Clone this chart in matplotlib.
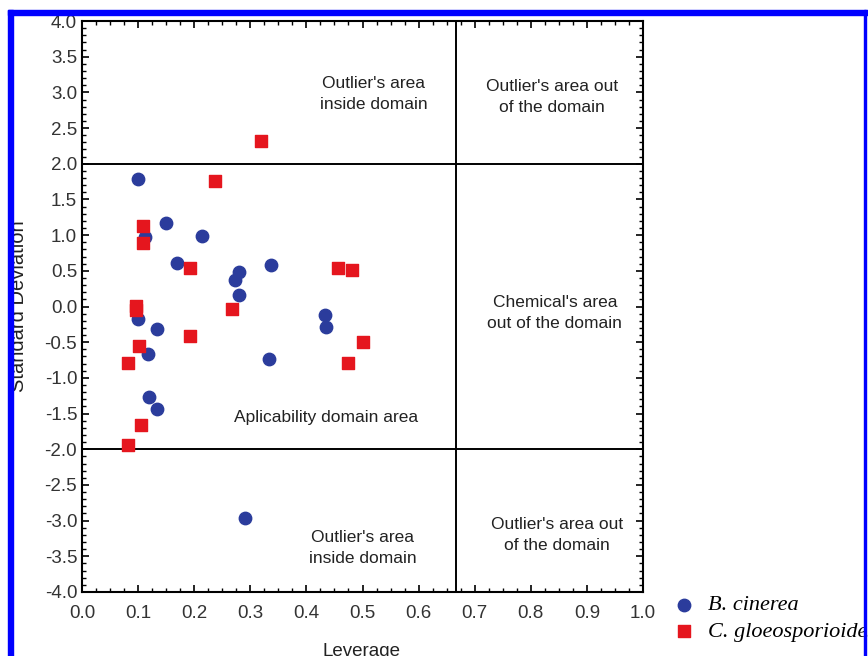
import matplotlib
matplotlib.use("Agg")
import matplotlib.pyplot as plt
from matplotlib.patches import Rectangle
from matplotlib.ticker import MultipleLocator

plt.rcParams["font.family"] = ["Liberation Sans", "DejaVu Sans"]
plt.rcParams["axes.unicode_minus"] = False

# ---------------------------------------------------------------
# data (leverage, standard deviation)
# ---------------------------------------------------------------
bc_lev = [0.100, 0.150, 0.112, 0.214, 0.169, 0.337, 0.280, 0.273, 0.280,
          0.433, 0.435, 0.100, 0.134, 0.118, 0.333, 0.119, 0.134, 0.291]
bc_sd = [1.79, 1.17, 0.97, 0.99, 0.61, 0.58, 0.49, 0.37, 0.16,
         -0.12, -0.29, -0.17, -0.31, -0.66, -0.73, -1.27, -1.43, -2.97]

cg_lev = [0.319, 0.237, 0.109, 0.109, 0.193, 0.456, 0.481, 0.096, 0.097,
          0.267, 0.193, 0.102, 0.501, 0.082, 0.474, 0.105, 0.082]
cg_sd = [2.32, 1.76, 1.13, 0.89, 0.54, 0.54, 0.51, 0.01, -0.05,
         -0.03, -0.41, -0.55, -0.50, -0.79, -0.79, -1.66, -1.94]

h_star = 0.667      # warning leverage
sd_limit = 2.0

area_labels = [
    (0.52, 2.98, "Outlier's area\ninside domain"),
    (0.838, 2.94, "Outlier's area out\nof the domain"),
    (0.843, -0.09, "Chemical's area\nout of the domain"),
    (0.435, -1.55, "Aplicability domain area"),
    (0.50, -3.38, "Outlier's area\ninside domain"),
    (0.847, -3.20, "Outlier's area out\nof the domain"),
]

# ---------------------------------------------------------------
# figure
# ---------------------------------------------------------------
fig = plt.figure(figsize=(8.68, 6.56), dpi=100)
ax = fig.add_axes([82 / 868, 1 - 592 / 656, (643 - 82) / 868, (592 - 21) / 656])

ax.scatter(bc_lev, bc_sd, s=80, marker="o", color="#2b3c9c", zorder=3,
           label="B. cinerea")
ax.scatter(cg_lev, cg_sd, s=85, marker="s", color="#e5161e", zorder=3,
           label="C. gloeosporioides")

ax.axvline(h_star, color="black", lw=1.4)
ax.axhline(sd_limit, color="black", lw=1.4)
ax.axhline(-sd_limit, color="black", lw=1.4)

for x, y, txt in area_labels:
    ax.text(x, y, txt, ha="center", va="center", fontsize=12.5,
            color="#222222", linespacing=1.5)

ax.set_xlim(0, 1)
ax.set_ylim(-4, 4)
ax.xaxis.set_major_locator(MultipleLocator(0.1))
ax.xaxis.set_minor_locator(MultipleLocator(0.025))
ax.yaxis.set_major_locator(MultipleLocator(0.5))
ax.yaxis.set_minor_locator(MultipleLocator(0.1))
ax.xaxis.set_major_formatter(lambda v, p: f"{v:.1f}")
ax.yaxis.set_major_formatter(lambda v, p: f"{v:.1f}")
ax.tick_params(which="both", direction="in", top=True, right=True,
               labelsize=13.5, labelcolor="#333333")
ax.tick_params(which="major", length=5, width=1.2)
ax.tick_params(which="minor", length=3, width=1.0)
ax.tick_params(axis="x", pad=9)
for sp in ax.spines.values():
    sp.set_linewidth(1.5)

fig.text(362 / 868, 1 - 651 / 656, "Leverage", ha="center", va="center",
         fontsize=13.5, color="#222222")
fig.text(19 / 868, 1 - 306 / 656, "Standard Deviation", ha="center",
         va="center", rotation=90, fontsize=14.5, color="#222222")

leg = fig.legend(loc="upper left", bbox_to_anchor=(664 / 868, 1 - 586 / 656),
                 frameon=False, handletextpad=0.6, labelspacing=0.25,
                 borderaxespad=0, handlelength=1.0,
                 prop={"family": "Liberation Serif", "style": "italic",
                       "size": 16})

# blue frame around the picture
fig.patches.append(Rectangle((8 / 868, 0), 5 / 868, 1 - 10 / 656,
                             transform=fig.transFigure, color="#0000ff",
                             zorder=10))
fig.patches.append(Rectangle((8 / 868, 1 - 15 / 656), 860 / 868, 5 / 656,
                             transform=fig.transFigure, color="#0000ff",
                             zorder=10))
fig.patches.append(Rectangle((864 / 868, 0), 2 / 868, 1 - 10 / 656,
                             transform=fig.transFigure, color="#0000ff",
                             zorder=10))

fig.savefig("out.png", dpi=100)
